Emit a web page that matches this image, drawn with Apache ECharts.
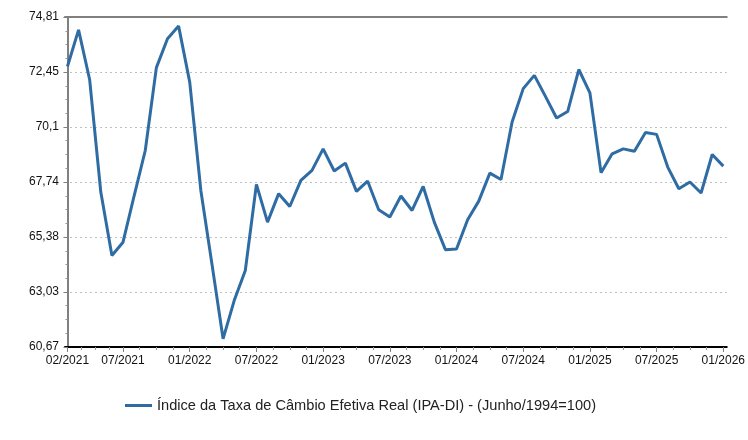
<!DOCTYPE html>
<html><head><meta charset="utf-8">
<script src="https://cdn.jsdelivr.net/npm/echarts@6/dist/echarts.min.js"></script>
<style>html,body{margin:0;padding:0;background:#fff}#c{width:748px;height:440px}</style>
</head><body><div id="c"></div>
<script>
const months = ['02/2021','03/2021','04/2021','05/2021','06/2021','07/2021','08/2021','09/2021','10/2021','11/2021','12/2021',
'01/2022','02/2022','03/2022','04/2022','05/2022','06/2022','07/2022','08/2022','09/2022','10/2022','11/2022','12/2022',
'01/2023','02/2023','03/2023','04/2023','05/2023','06/2023','07/2023','08/2023','09/2023','10/2023','11/2023','12/2023',
'01/2024','02/2024','03/2024','04/2024','05/2024','06/2024','07/2024','08/2024','09/2024','10/2024','11/2024','12/2024',
'01/2025','02/2025','03/2025','04/2025','05/2025','06/2025','07/2025','08/2025','09/2025','10/2025','11/2025','12/2025',
'01/2026'];
const values = [72.69,74.26,72.12,67.31,64.59,65.16,67.15,69.09,72.64,73.88,74.42,
72.02,67.38,64.22,61.02,62.66,63.95,67.64,66.02,67.24,66.69,67.81,68.24,
69.16,68.21,68.55,67.34,67.78,66.55,66.24,67.14,66.52,67.55,66.02,64.84,
64.87,66.12,66.92,68.12,67.85,70.31,71.74,72.31,71.41,70.48,70.76,72.56,
71.56,68.14,68.95,69.16,69.06,69.86,69.78,68.38,67.45,67.74,67.27,68.92,
68.42];
const xLabelIdx = [0,5,11,17,23,29,35,41,47,53,59];
const yTicks = [60.67,63.03,65.38,67.74,70.1,72.45,74.81];
const seriesName = 'Índice da Taxa de Câmbio Efetiva Real (IPA-DI) - (Junho/1994=100)';

function minorOf(arr){const out=[];for(let i=0;i<arr.length-1;i++){for(let k=1;k<4;k++)out.push(arr[i]+(arr[i+1]-arr[i])*k/4);}return out;}
const fmtY = v => v.toFixed(2).replace(/0+$/,'').replace(/\.$/,'').replace('.',',');
const FONT = '"Liberation Sans", Arial, sans-serif';
const YMIN = yTicks[0], YMAX = yTicks[yTicks.length-1];
const XMIN = -0.22, XMAX = 59.31;
const yInner = yTicks.slice(1, -1);
const hidden = {axisTick:{show:false},axisLabel:{show:false},splitLine:{show:false}};

const chart = echarts.init(document.getElementById('c'), null, {renderer:'canvas'});
chart.setOption({
  animation:false,
  backgroundColor:'#fff',
  grid:{left:65,right:21,top:17,bottom:93,show:false},
  legend:{
    left:120, top:393, icon:'rect', itemWidth:27, itemHeight:3,
    textStyle:{fontFamily:FONT,fontSize:14.6,color:'#222'},
    data:[seriesName]
  },
  xAxis:[{
    type:'value', min:XMIN, max:XMAX, position:'bottom',
    axisLine:{show:true,lineStyle:{color:'#000',width:2}},
    axisTick:{show:true,customValues:xLabelIdx,length:5,lineStyle:{color:'#808080',width:1}},
    axisLabel:{show:true,customValues:xLabelIdx,formatter:v=>months[Math.round(v)],margin:8,
      fontFamily:FONT,fontSize:12,color:'#111'},
    splitLine:{show:false}
  },{
    type:'value', min:XMIN, max:XMAX, position:'bottom',
    axisLine:{show:false},
    axisTick:{show:true,customValues:minorOf(xLabelIdx),length:3,lineStyle:{color:'#999',width:1}},
    axisLabel:{show:false},
    splitLine:{show:false}
  },Object.assign({
    type:'value', min:XMIN, max:XMAX, position:'top',
    axisLine:{show:true,lineStyle:{color:'#808080',width:2}}
  }, hidden)],
  yAxis:[{
    type:'value', min:YMIN, max:YMAX, position:'left',
    axisLine:{show:true,lineStyle:{color:'#808080',width:2}},
    axisTick:{show:true,customValues:yTicks,length:4,lineStyle:{color:'#808080',width:1}},
    axisLabel:{show:true,customValues:yTicks,formatter:fmtY,margin:6,fontFamily:FONT,fontSize:12,color:'#111'},
    splitLine:{show:false}
  },{
    type:'value', min:YMIN, max:YMAX, position:'left',
    axisLine:{show:false},
    axisTick:{show:true,customValues:minorOf(yTicks),length:2,lineStyle:{color:'#999',width:1}},
    axisLabel:{show:false},
    splitLine:{show:false}
  },{
    type:'value', min:YMIN, max:YMAX, position:'right',
    axisLine:{show:true,lineStyle:{color:'#808080',width:2}},
    axisTick:{show:false,customValues:yInner},
    axisLabel:{show:false,customValues:yInner},
    splitLine:{show:true,lineStyle:{color:'#c0c0c0',type:[2,3],width:1}}
  }],
  series:[{
    name:seriesName, type:'line', xAxisIndex:0, yAxisIndex:0,
    data:values.map((v,i)=>[i,v]),
    symbol:'none', smooth:false,
    lineStyle:{color:'#2f6ca3',width:3},
    itemStyle:{color:'#2f6ca3'},
    z:5
  }]
});
</script></body></html>
